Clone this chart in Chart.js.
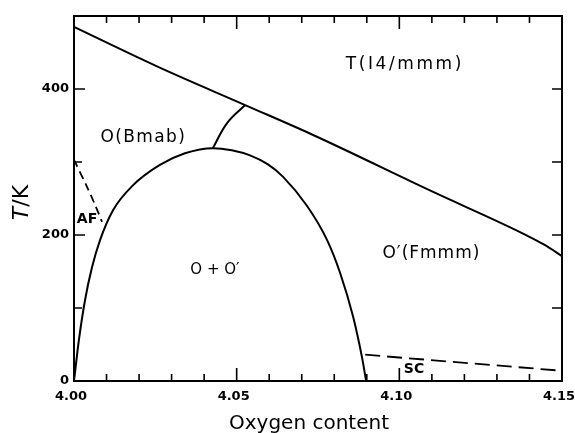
<!DOCTYPE html>
<html>
<head>
<meta charset="utf-8">
<script src="https://cdn.jsdelivr.net/npm/chart.js@4/dist/chart.umd.min.js"></script>
<style>
  html, body { margin: 0; padding: 0; background: #fff; }
  canvas { display: block; }
</style>
</head>
<body>
<canvas id="c" width="575" height="433"></canvas>
<script>
// ---- data ----
const upperX = [4.000, 4.0255, 4.0526, 4.0735, 4.1104, 4.1371, 4.1448, 4.150];
const upperT = [485, 431, 378, 337, 259, 204, 186, 171];

const domeX = [4.000, 4.0015, 4.0034, 4.0055, 4.0080, 4.0120, 4.0181, 4.0264, 4.0341, 4.0427,
               4.0485, 4.0541, 4.0595, 4.0642, 4.0716, 4.0778, 4.0818, 4.0858, 4.0885, 4.0898];
const domeT = [0, 56, 111, 155, 193, 234, 268, 296, 312, 319,
               316, 309, 297, 280, 240, 193, 148, 88, 33, 0];

const linkX = [4.0427, 4.0470, 4.0526];
const linkT = [319, 353, 378];

const afX = [4.000, 4.0040, 4.0065, 4.0086];
const afT = [303, 266, 241, 218];

const scX = [4.0895, 4.150];
const scT = [36, 14];

const xMajor = [4.00, 4.05, 4.10, 4.15];
const xMinor = [4.01, 4.02, 4.03, 4.04, 4.06, 4.07, 4.08, 4.09, 4.11, 4.12, 4.13, 4.14];
const yMajor = [0, 200, 400];
const yMinor = [100, 300];

const regionLabels = ["T(I4/mmm)", "O(Bmab)", "O + O\u2032", "O\u2032(Fmmm)", "AF", "SC"];
const regionX = [4.1013, 4.0211, 4.0433, 4.1097, 4.0040, 4.1045];
const regionT = [433, 334, 152, 175, 221, 16];

const xTitle = "Oxygen content";
const yTitleItalic = "T";
const yTitleRest = "/K";

// ---- helpers ----
const pts = (xs, ys) => xs.map((x, i) => ({ x: x, y: ys[i] }));

const regionStyle = [
  { font: "17px 'DejaVu Sans'", ls: 2.6 },
  { font: "17px 'DejaVu Sans'", ls: 1.4 },
  { font: "15px 'DejaVu Sans'", ls: 0 },
  { font: "17px 'DejaVu Sans'", ls: 1.0 },
  { font: "bold 14px 'DejaVu Sans'", ls: 0 },
  { font: "bold 14px 'DejaVu Sans'", ls: 0 }
];

const framePlugin = {
  id: 'frame',
  beforeDraw(chart) {
    const ctx = chart.ctx;
    ctx.save();
    ctx.fillStyle = '#fff';
    ctx.fillRect(0, 0, chart.width, chart.height);
    ctx.restore();
  },
  afterDraw(chart) {
    const ctx = chart.ctx;
    const a = chart.chartArea;
    const xs = chart.scales.x, ys = chart.scales.y;
    ctx.save();
    ctx.strokeStyle = '#000';
    ctx.lineWidth = 2;
    ctx.strokeRect(a.left, a.top, a.right - a.left, a.bottom - a.top);
    ctx.lineWidth = 1.6;
    ctx.beginPath();
    const xt = (v, len) => {
      const p = xs.getPixelForValue(v);
      ctx.moveTo(p, a.bottom); ctx.lineTo(p, a.bottom - len);
      ctx.moveTo(p, a.top); ctx.lineTo(p, a.top + len);
    };
    xMajor.forEach(v => { if (v > 4.0 && v < 4.15) xt(v, 13); });
    xMinor.forEach(v => xt(v, 7));
    yMajor.forEach(v => { if (v > 0) { const p = ys.getPixelForValue(v); ctx.moveTo(a.left, p); ctx.lineTo(a.left + 11, p); } });
    yMinor.forEach(v => { const p = ys.getPixelForValue(v); ctx.moveTo(a.left, p); ctx.lineTo(a.left + 8, p); });
    yMajor.concat(yMinor).forEach(v => { if (v > 0) { const p = ys.getPixelForValue(v); ctx.moveTo(a.right, p); ctx.lineTo(a.right - 10, p); } });
    ctx.stroke();

    ctx.fillStyle = '#000';
    ctx.textAlign = 'center';
    ctx.textBaseline = 'middle';
    regionLabels.forEach((t, i) => {
      ctx.font = regionStyle[i].font;
      ctx.letterSpacing = regionStyle[i].ls + 'px';
      ctx.fillText(t, xs.getPixelForValue(regionX[i]) + regionStyle[i].ls / 2, ys.getPixelForValue(regionT[i]));
    });
    ctx.letterSpacing = '0px';

    ctx.font = "20px 'DejaVu Sans'";
    ctx.textAlign = 'center';
    ctx.textBaseline = 'middle';
    ctx.fillText(xTitle, a.left + 235, a.bottom + 43);

    ctx.translate(22, (a.top + a.bottom) / 2 + 4);
    ctx.rotate(-Math.PI / 2);
    ctx.font = "italic 22px 'DejaVu Sans'";
    const w1 = ctx.measureText(yTitleItalic).width;
    ctx.font = "22px 'DejaVu Sans'";
    const w2 = ctx.measureText(yTitleRest).width;
    const start = -(w1 + w2) / 2;
    ctx.textAlign = 'left';
    ctx.font = "italic 22px 'DejaVu Sans'";
    ctx.fillText(yTitleItalic, start, 0);
    ctx.font = "22px 'DejaVu Sans'";
    ctx.fillText(yTitleRest, start + w1, 0);
    ctx.restore();
  }
};

const lineBase = { showLine: true, pointRadius: 0, borderColor: '#000', borderWidth: 2, fill: false };

new Chart(document.getElementById('c'), {
  type: 'scatter',
  data: {
    datasets: [
      Object.assign({}, lineBase, { label: 'T/O boundary', data: pts(upperX, upperT), cubicInterpolationMode: 'monotone' }),
      Object.assign({}, lineBase, { label: 'O+O\u2032 dome', data: pts(domeX, domeT), cubicInterpolationMode: 'monotone' }),
      Object.assign({}, lineBase, { label: 'O/O\u2032 boundary', data: pts(linkX, linkT), tension: 0.4 }),
      Object.assign({}, lineBase, { label: 'AF', data: pts(afX, afT), tension: 0.3, borderDash: [8, 5], borderWidth: 1.8 }),
      Object.assign({}, lineBase, { label: 'SC', data: pts(scX, scT), borderDash: [15, 7], borderWidth: 1.8 })
    ]
  },
  options: {
    responsive: false,
    animation: false,
    devicePixelRatio: 1,
    layout: { padding: { top: 16, right: 13, left: 0, bottom: 0 } },
    plugins: { legend: { display: false }, tooltip: { enabled: false } },
    scales: {
      x: {
        type: 'linear', min: 4.0, max: 4.15, position: 'bottom',
        afterBuildTicks: s => { s.ticks = xMajor.map(v => ({ value: v })); },
        afterFit: s => { s.height = 52; s.paddingLeft = 0; s.paddingRight = 0; },
        grid: { display: false, drawTicks: false },
        border: { display: false },
        ticks: {
          color: '#000', padding: 8, maxRotation: 0, autoSkip: false, labelOffset: -3,
          font: { family: 'DejaVu Sans', size: 13, weight: 'bold' },
          callback: v => Number(v).toFixed(2)
        }
      },
      y: {
        type: 'linear', min: 0, max: 500, position: 'left',
        afterBuildTicks: s => { s.ticks = yMajor.map(v => ({ value: v })); },
        afterFit: s => { s.width = 74; s.paddingTop = 0; s.paddingBottom = 0; },
        grid: { display: false, drawTicks: false },
        border: { display: false },
        ticks: {
          color: '#000', padding: 5, autoSkip: false,
          font: { family: 'DejaVu Sans', size: 13, weight: 'bold' },
          callback: v => String(v)
        }
      }
    }
  },
  plugins: [framePlugin]
});
</script>
</body>
</html>
